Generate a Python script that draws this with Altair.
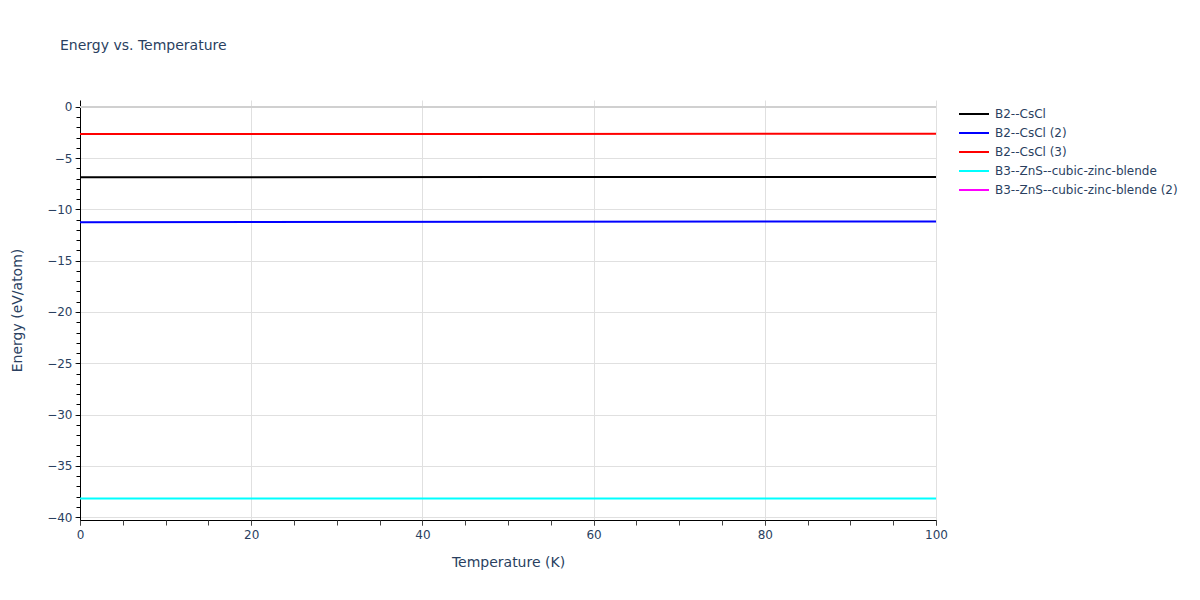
import altair as alt
import pandas as pd

temperature = [0, 100]
series_names = ["B2--CsCl", "B2--CsCl (2)", "B2--CsCl (3)",
                "B3--ZnS--cubic-zinc-blende", "B3--ZnS--cubic-zinc-blende (2)"]
series_colors = ["black", "blue", "red", "cyan", "magenta"]
energy_b2 = [-6.86, -6.82]
energy_b2_2 = [-11.24, -11.16]
energy_b2_3 = [-2.64, -2.62]
energy_b3 = [-38.2, -38.19]

rows = []
for name, vals in [(series_names[0], energy_b2), (series_names[1], energy_b2_2),
                   (series_names[2], energy_b2_3), (series_names[3], energy_b3)]:
    for t, e in zip(temperature, vals):
        rows.append({"T": t, "E": e, "series": name})
df = pd.DataFrame(rows)

FONT = "DejaVu Sans"
TXT = "#2a3f5f"
xdom = [0, 100]
ydom = [-40.29, 0.68]

xscale = alt.Scale(domain=xdom, nice=False, zero=False)
yscale = alt.Scale(domain=ydom, nice=False, zero=False)

base = alt.Chart(df)

lines = base.mark_line(strokeWidth=2, clip=True).encode(
    x=alt.X("T:Q", scale=xscale,
            axis=alt.Axis(title="Temperature (K)", values=[0, 20, 40, 60, 80, 100],
                          grid=True, gridColor="#e0e0e0", gridWidth=1,
                          domain=True, domainColor="#000000", domainWidth=1,
                          tickColor="#444444", tickSize=5, labelPadding=4,
                          labelFlush=False, labelOverlap=False,
                          labelFontSize=12, labelColor=TXT, labelFont=FONT,
                          titleFontSize=14, titleColor=TXT, titleFont=FONT,
                          titleFontWeight="normal", titlePadding=15)),
    y=alt.Y("E:Q", scale=yscale,
            axis=alt.Axis(title="Energy (eV/atom)", values=[0, -5, -10, -15, -20, -25, -30, -35, -40],
                          grid=True, gridColor="#e0e0e0", gridWidth=1,
                          domain=True, domainColor="#000000", domainWidth=1,
                          tickColor="#444444", tickSize=5, labelPadding=3,
                          labelFlush=False, labelOverlap=False,
                          labelFontSize=12, labelColor=TXT, labelFont=FONT,
                          labelExpr="replace(datum.label, '-', '\u2212')",
                          titleFontSize=14, titleColor=TXT, titleFont=FONT,
                          titleFontWeight="normal", titlePadding=22)),
    color=alt.Color("series:N",
                    scale=alt.Scale(domain=series_names, range=series_colors),
                    legend=alt.Legend(title=None, orient="none", legendX=888, legendY=8,
                                      symbolType="M-3,0L3,0", symbolSize=100,
                                      symbolStrokeWidth=2,
                                      labelFontSize=12, labelColor=TXT, labelFont=FONT,
                                      rowPadding=7, labelOffset=15, labelLimit=300)),
)

zero_df = pd.DataFrame({"E": [0]})
zero_line = alt.Chart(zero_df).mark_rule(color="#d0d0d0", strokeWidth=2).encode(
    y=alt.Y("E:Q", scale=yscale, axis=None)
)

minor_x = alt.Chart(df).mark_line(opacity=0).encode(
    x=alt.X("T:Q", scale=xscale,
            axis=alt.Axis(title=None, labels=False, grid=False, domain=False,
                          values=list(range(0, 101, 5)), tickColor="#444444", tickSize=5,
                          orient="bottom")),
)
minor_y = alt.Chart(df).mark_line(opacity=0).encode(
    y=alt.Y("E:Q", scale=yscale,
            axis=alt.Axis(title=None, labels=False, grid=False, domain=False,
                          values=list(range(0, -41, -1)), tickColor="#000000", tickSize=4,
                          orient="left")),
)

chart = alt.layer(zero_line, lines, minor_x, minor_y).resolve_axis(
    x="independent", y="independent"
).properties(
    width=856, height=420,
    autosize=alt.AutoSizeParams(type="none"),
    padding={"left": 72, "top": 92, "right": 256, "bottom": 72},
    title=alt.TitleParams("Energy vs. Temperature", anchor="start", frame="group",
                          dx=-20, offset=47, fontSize=14, font=FONT, color=TXT,
                          fontWeight="normal"),
    background="white",
).configure_view(stroke=None)

chart.save("out.html", embed_options={"renderer": "svg", "actions": False})
